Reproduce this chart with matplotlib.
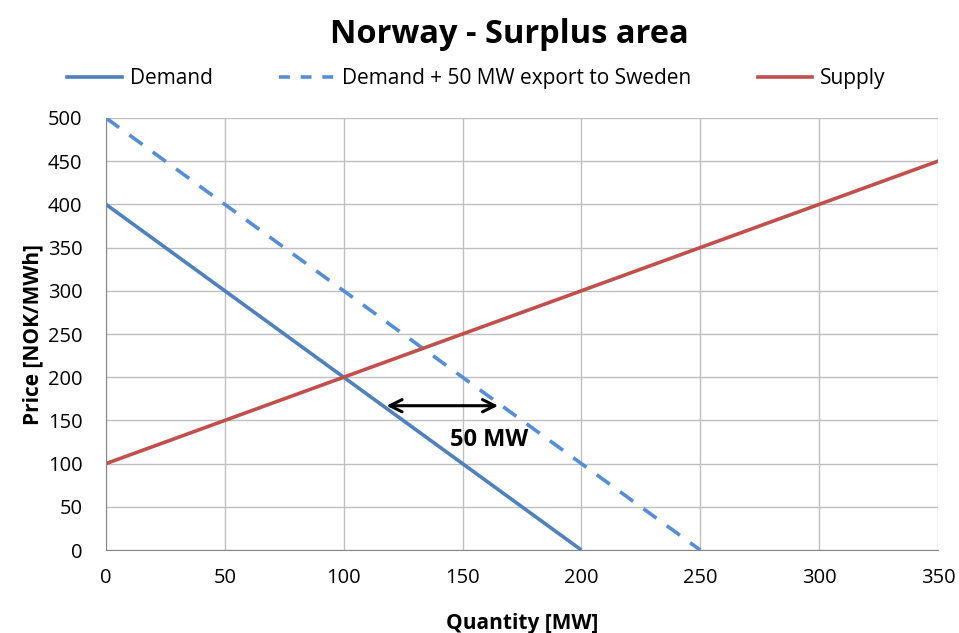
import matplotlib.pyplot as plt
from matplotlib.lines import Line2D

plt.rcParams['font.family'] = ['Open Sans', 'DejaVu Sans']

# data
demand_x = [0, 200]
demand_y = [400, 0]
export_x = [0, 250]
export_y = [500, 0]
supply_x = [0, 350]
supply_y = [100, 450]
arrow_start = (118, 167)
arrow_end = (165, 167)
arrow_label = '50 MW'
label_pos = (161, 127)

blue = '#4F81BD'
dash_blue = '#558ED5'
red = '#C0504D'

fig = plt.figure(figsize=(9.59, 6.33), dpi=100)
ax = fig.add_axes([0.1105, 0.1311, 0.8675, 0.6825])

ax.plot(demand_x, demand_y, color=blue, lw=2.6, solid_capstyle='butt')
ax.plot(export_x, export_y, color=dash_blue, lw=2.6, dashes=(4.5, 3.5))
ax.plot(supply_x, supply_y, color=red, lw=2.6)

ax.annotate('', xy=arrow_end, xytext=arrow_start,
            arrowprops=dict(arrowstyle='<->', color='black', lw=2.2,
                            mutation_scale=22, shrinkA=0, shrinkB=0))
ax.text(label_pos[0], label_pos[1], arrow_label, fontsize=17, fontweight='bold',
        ha='center', va='center')

ax.set_xlim(0, 350)
ax.set_ylim(0, 500)
ax.set_xticks(range(0, 351, 50))
ax.set_yticks(range(0, 501, 50))
ax.grid(True, color='#BFBFBF', lw=1)
ax.set_axisbelow(True)
for s in ['top', 'right']:
    ax.spines[s].set_visible(False)
for s in ['left', 'bottom']:
    ax.spines[s].set_color('#868686')
ax.tick_params(length=0, labelsize=14.5)
ax.tick_params(axis='y', pad=17)
ax.tick_params(axis='x', pad=13)

ax.set_xlabel('Quantity [MW]', fontsize=15, fontweight='bold', labelpad=18)
ax.set_ylabel('Price [NOK/MWh]', fontsize=15, fontweight='bold', labelpad=3)

fig.text(0.531, 0.945, 'Norway - Surplus area', fontsize=23.5, fontweight='bold',
         ha='center', va='center')

handles = [Line2D([], [], color=blue, lw=2.6),
           Line2D([], [], color=dash_blue, lw=2.6, dashes=(3, 3)),
           Line2D([], [], color=red, lw=2.6)]
labels = ['Demand', 'Demand + 50 MW export to Sweden', 'Supply']
fig.legend(handles, labels, loc='center', bbox_to_anchor=(0.497, 0.876), ncol=3,
           frameon=False, fontsize=15, handlelength=2.6, handletextpad=0.4,
           columnspacing=3.2)

fig.savefig('out.png', dpi=100)
